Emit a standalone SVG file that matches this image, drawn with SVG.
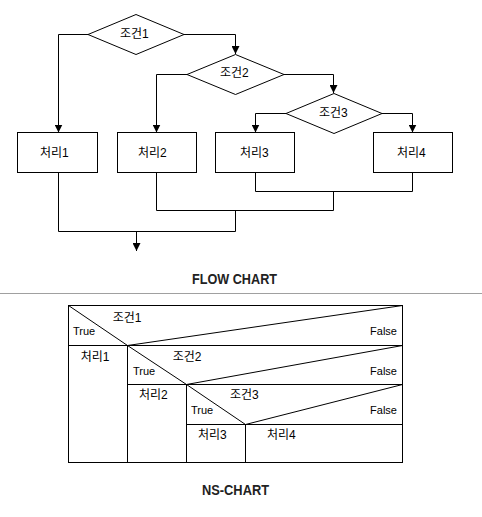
<svg xmlns="http://www.w3.org/2000/svg" width="482" height="517" viewBox="0 0 482 517">
<style>
.shape{fill:#fff;stroke:#000;stroke-width:1}
.ln{fill:none;stroke:#000;stroke-width:1}
.t{font-family:"Liberation Sans","Noto Sans CJK KR",sans-serif;font-size:12px;fill:#000}
.s{font-family:"Liberation Sans","Noto Sans CJK KR",sans-serif;font-size:11px;fill:#000}
.h{font-family:"Liberation Sans",sans-serif;font-weight:bold;font-size:14px;fill:#222}
</style>
<defs>
<marker id="arr" markerUnits="userSpaceOnUse" markerWidth="8" markerHeight="8" viewBox="0 0 8 8" refX="8" refY="4" orient="auto">
<path d="M0,0 L8,4 L0,8 z" fill="#000"/>
</marker>
</defs>
<rect width="482" height="517" fill="#fff"/>
<g id="connectors" class="ln">
<path d="M88,34.5 H58.5 V132.5" marker-end="url(#arr)"/>
<path d="M184,34.5 H235.5 V54" marker-end="url(#arr)"/>
<path d="M187,74.5 H156.5 V132.5" marker-end="url(#arr)"/>
<path d="M284,74.5 H333.5 V93" marker-end="url(#arr)"/>
<path d="M286,113.5 H255.5 V132.5" marker-end="url(#arr)"/>
<path d="M382,113.5 H412.5 V132.5" marker-end="url(#arr)"/>
<path d="M255.5,172.5 V191.5 H412.5 V172.5"/>
<path d="M333.5,191.5 V210.5"/>
<path d="M156.5,172.5 V210.5 H333.5"/>
<path d="M235.5,210.5 V231.5"/>
<path d="M58.5,172.5 V231.5 H235.5"/>
<path d="M136.5,231.5 V251" marker-end="url(#arr)"/>
</g>
<g id="cond1">
<polygon class="shape" points="88,34.5 136,14.5 184,34.5 136,54.5"/>
<text class="t" x="120" y="37.6">조건1</text>
</g>
<g id="cond2">
<polygon class="shape" points="187,74.5 235.5,54.5 284,74.5 235.5,94.5"/>
<text class="t" x="220" y="76.6">조건2</text>
</g>
<g id="cond3">
<polygon class="shape" points="286,113.5 334,93.5 382,113.5 334,133.5"/>
<text class="t" x="319" y="116.6">조건3</text>
</g>
<g id="proc1">
<rect class="shape" x="17.5" y="132.5" width="80" height="40"/>
<text class="t" x="40" y="156.6">처리1</text>
</g>
<g id="proc2">
<rect class="shape" x="117.5" y="132.5" width="79" height="40"/>
<text class="t" x="138" y="156.6">처리2</text>
</g>
<g id="proc3">
<rect class="shape" x="215.5" y="132.5" width="79" height="40"/>
<text class="t" x="240" y="156.6">처리3</text>
</g>
<g id="proc4">
<rect class="shape" x="373.5" y="132.5" width="79" height="40"/>
<text class="t" x="397" y="156.6">처리4</text>
</g>
<text class="h" x="192" y="284" textLength="85" lengthAdjust="spacingAndGlyphs">FLOW CHART</text>
<line x1="0" y1="293.5" x2="482" y2="293.5" stroke="#a0a0a0" stroke-width="1"/>
<g id="ns-chart" class="ln">
<rect x="68.5" y="305.5" width="334" height="157"/>
<path d="M68.5,345.5 H402.5"/>
<path d="M68.5,305.5 L127.5,345.5 L402.5,305.5"/>
<path d="M127.5,345.5 V462.5"/>
<path d="M127.5,384.5 H402.5"/>
<path d="M127.5,345.5 L186.5,384.5 L402.5,345.5"/>
<path d="M186.5,384.5 V462.5"/>
<path d="M186.5,424.5 H402.5"/>
<path d="M186.5,384.5 L245.5,424.5 L402.5,384.5"/>
<path d="M245.5,424.5 V462.5"/>
</g>
<g id="ns-labels">
<text class="t" x="112.7" y="322">조건1</text>
<text class="s" x="73" y="335">True</text>
<text class="s" x="397" y="335" text-anchor="end">False</text>
<text class="t" x="80.7" y="361">처리1</text>
<text class="t" x="172.7" y="361">조건2</text>
<text class="s" x="133" y="375">True</text>
<text class="s" x="397" y="375" text-anchor="end">False</text>
<text class="t" x="139" y="398.6">처리2</text>
<text class="t" x="230" y="398.6">조건3</text>
<text class="s" x="191" y="414">True</text>
<text class="s" x="397" y="414" text-anchor="end">False</text>
<text class="t" x="198" y="438.6">처리3</text>
<text class="t" x="267" y="438.6">처리4</text>
</g>
<text class="h" x="202" y="495" textLength="67" lengthAdjust="spacingAndGlyphs">NS-CHART</text>
</svg>
